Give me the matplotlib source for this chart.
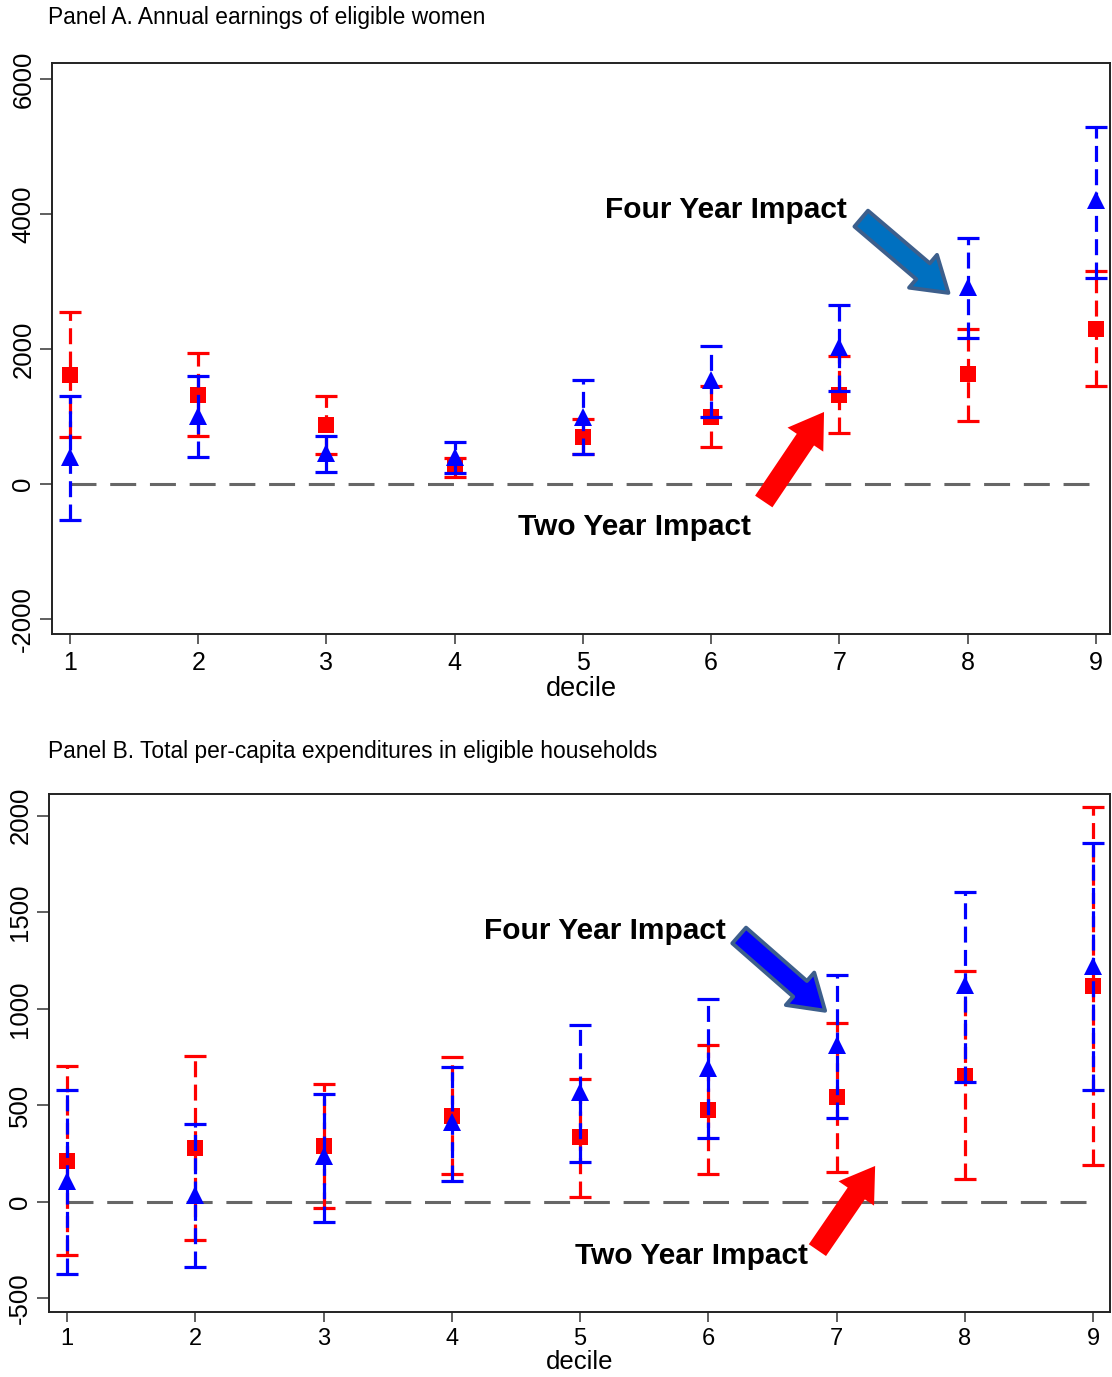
import matplotlib
matplotlib.use("Agg")
import matplotlib.pyplot as plt
from matplotlib.patches import FancyArrowPatch
import numpy as np

plt.rcParams["font.family"] = ["Liberation Sans", "DejaVu Sans"]
plt.rcParams["axes.unicode_minus"] = False

deciles = [1, 2, 3, 4, 5, 6, 7, 8, 9]

# Panel A: annual earnings of eligible women
a_two = [1620, 1318, 874, 267, 701, 997, 1318, 1624, 2300]
a_two_lo = [692, 711, 440, 108, 440, 543, 751, 933, 1452]
a_two_hi = [2548, 1936, 1303, 385, 960, 1452, 1896, 2291, 3155]
a_four = [400, 1007, 459, 404, 990, 1540, 2034, 2923, 4206]
a_four_lo = [-533, 404, 182, 167, 440, 997, 1382, 2158, 3056]
a_four_hi = [1303, 1600, 711, 622, 1540, 2044, 2651, 3639, 5292]
a_yticks = [-2000, 0, 2000, 4000, 6000]

# Panel B: total per-capita expenditures
b_two = [213, 278, 291, 447, 334, 477, 541, 653, 1120]
b_two_lo = [-277, -197, -31, 144, 27, 142, 155, 119, 193]
b_two_hi = [705, 756, 612, 751, 639, 811, 925, 1194, 2045]
b_four = [110, 38, 236, 416, 570, 694, 811, 1124, 1223]
b_four_lo = [-375, -337, -103, 110, 206, 329, 433, 623, 577]
b_four_hi = [580, 402, 561, 698, 918, 1052, 1175, 1605, 1860]
b_yticks = [-500, 0, 500, 1000, 1500, 2000]

RED = "#ff0000"
BLUE = "#0000ff"
DASH = (0, (5, 2.3))


def draw_series(ax, y, lo, hi, color, marker, ms):
    y = np.array(y)
    err = [y - np.array(lo), np.array(hi) - y]
    _, caps, bars = ax.errorbar(deciles, y, yerr=err, fmt="none", ecolor=color,
                                elinewidth=2.3, capsize=8, capthick=2.3)
    bars[0].set_linestyle(DASH)
    ax.plot(deciles, y, linestyle="none", marker=marker, color=color,
            markersize=ms, markeredgewidth=0)


def block_arrow(ax, tail, tip, face, edge=None):
    arr = FancyArrowPatch(tail, tip,
                          arrowstyle="simple,head_length=24,head_width=31,tail_width=15",
                          mutation_scale=1, shrinkA=0, shrinkB=0,
                          facecolor=face, edgecolor=edge if edge else face,
                          linewidth=2.8 if edge else 0, zorder=5)
    ax.add_patch(arr)


def style_axis(ax, yticks, ylim, xlim, xsize, xpad, labelsize, labelpad):
    ax.set_xlim(*xlim)
    ax.set_ylim(*ylim)
    ax.set_xticks(deciles)
    ax.set_yticks(yticks)
    ax.set_yticklabels([str(t) for t in yticks], rotation=90, va="center")
    ax.tick_params(axis="y", length=9, width=1.2, color="#444444", labelsize=18.5, pad=3)
    ax.tick_params(axis="x", length=7, width=1.2, color="#444444", labelsize=xsize, pad=xpad)
    for s in ax.spines.values():
        s.set_linewidth(1.4)
        s.set_color("#222222")
    ax.set_xlabel("decile", fontsize=labelsize, labelpad=labelpad)


fig = plt.figure(figsize=(11.12, 13.77), dpi=100)

# ---------- Panel A ----------
ax1 = fig.add_axes([0.0468, 0.5396, 0.9514, 0.4147])
ax1.plot([1, 9], [0, 0], color="#666666", linewidth=2.2, linestyle=(0, (8.5, 4.5)))
draw_series(ax1, a_two, a_two_lo, a_two_hi, RED, "s", 12)
draw_series(ax1, a_four, a_four_lo, a_four_hi, BLUE, "^", 13.5)
style_axis(ax1, a_yticks, (-2222, 6236), (0.86, 9.11), 18, 5, 19.5, 1)
ax1.text(6.115, 4058, "Four Year Impact", fontsize=21.5, fontweight="bold",
         ha="center", va="center")
ax1.text(5.40, -637, "Two Year Impact", fontsize=21.5, fontweight="bold",
         ha="center", va="center")
block_arrow(ax1, (7.17, 3930), (7.85, 2830), "#0070c0", "#3d5f8c")
block_arrow(ax1, (6.41, -260), (6.88, 1066), RED)
fig.text(0.043, 0.987, "Panel A. Annual earnings of eligible women",
         fontsize=16.4, ha="left", va="center")

# ---------- Panel B ----------
ax2 = fig.add_axes([0.0441, 0.047, 0.954, 0.3764])
ax2.plot([1, 9], [0, 0], color="#666666", linewidth=2.2, linestyle=(0, (8.5, 4.5)))
draw_series(ax2, b_two, b_two_lo, b_two_hi, RED, "s", 12)
draw_series(ax2, b_four, b_four_lo, b_four_hi, BLUE, "^", 13.5)
style_axis(ax2, b_yticks, (-572, 2113), (0.86, 9.13), 17, 4, 18.5, 0)
ax2.text(5.195, 1402, "Four Year Impact", fontsize=21.5, fontweight="bold",
         ha="center", va="center")
ax2.text(5.87, -278, "Two Year Impact", fontsize=21.5, fontweight="bold",
         ha="center", va="center")
block_arrow(ax2, (6.24, 1380), (6.91, 990), BLUE, "#3d5f8c")
block_arrow(ax2, (6.85, -250), (7.30, 186), RED)
fig.text(0.043, 0.4545, "Panel B. Total per-capita expenditures in eligible households",
         fontsize=16.4, ha="left", va="center")

fig.savefig("out.png", dpi=100)
